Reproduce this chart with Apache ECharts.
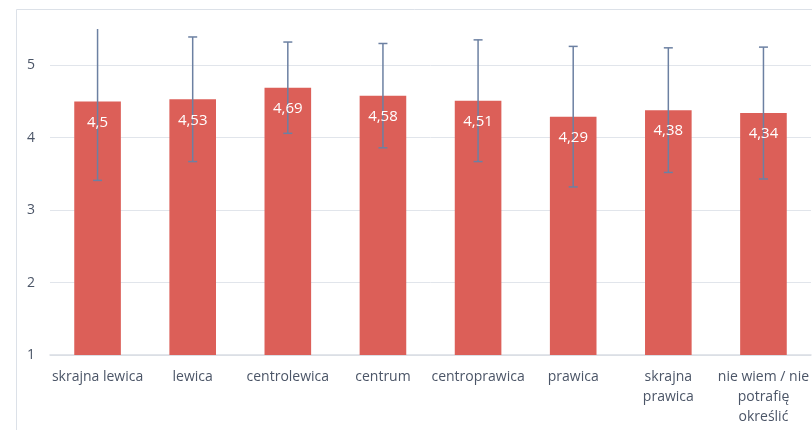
<!DOCTYPE html>
<html>
<head>
<meta charset="utf-8">
<script src="https://cdn.jsdelivr.net/npm/echarts@6/dist/echarts.min.js"></script>
<style>
  html, body { margin: 0; padding: 0; background: #fff; }
  #chart { width: 812px; height: 430px; }
</style>
</head>
<body>
<div id="chart"></div>
<script>
// Poglądy polityczne: średnia ocena z odchyleniem standardowym
const categories = [
  'skrajna lewica', 'lewica', 'centrolewica', 'centrum',
  'centroprawica', 'prawica', 'skrajna\nprawica', 'nie wiem / nie\npotrafię\nokreślić'
];
const means = [4.5, 4.53, 4.69, 4.58, 4.51, 4.29, 4.38, 4.34];
const stdDevs = [1.09, 0.86, 0.63, 0.72, 0.84, 0.97, 0.86, 0.91];
const yTicks = [1, 2, 3, 4, 5];

const FONT = '"Open Sans", "Noto Sans", sans-serif';
const TEXT = '#4B5567';

const errorData = means.map((m, i) => [i, m - stdDevs[i], m + stdDevs[i]]);
const labelData = means.map((m, i) => [i, m]);

const chart = echarts.init(document.getElementById('chart'), null, { renderer: 'canvas' });

chart.setOption({
  animation: false,
  backgroundColor: '#fff',
  graphic: [{
    type: 'rect',
    shape: { x: 16.5, y: 9.5, width: 900, height: 500 },
    style: { fill: 'none', stroke: '#DCE1E8', lineWidth: 1 },
    silent: true,
    z: -1
  }],
  grid: { left: 50, right: 0, top: 29, bottom: 75 },
  xAxis: {
    type: 'category',
    data: categories,
    axisTick: { show: false },
    axisLine: { lineStyle: { color: '#D9DDE3', width: 1.5 } },
    axisLabel: {
      interval: 0,
      margin: 12,
      color: TEXT,
      fontFamily: FONT,
      fontSize: 14,
      lineHeight: 20
    }
  },
  yAxis: {
    type: 'value',
    min: yTicks[0],
    max: 5.5,
    interval: 1,
    axisLine: { show: false },
    axisTick: { show: false },
    splitLine: { showMaxLine: false, lineStyle: { color: '#E1E5EB', width: 1 } },
    axisLabel: {
      showMaxLabel: false,
      margin: 15,
      color: TEXT,
      fontFamily: FONT,
      fontSize: 14,
      formatter: v => (yTicks.includes(v) ? String(v) : '')
    }
  },
  series: [
    {
      type: 'bar',
      data: means,
      barWidth: '49%',
      itemStyle: { color: '#DC5F58' },
      z: 2
    },
    {
      // error bars (± one standard deviation), clipped at the plot top
      type: 'custom',
      data: errorData,
      clip: true,
      z: 3,
      renderItem: (params, api) => {
        const x = api.value(0);
        const lo = api.coord([x, api.value(1)]);
        const hi = api.coord([x, api.value(2)]);
        const half = 4.5;
        const style = { stroke: '#6C80A2', lineWidth: 1.5 };
        return {
          type: 'group',
          children: [
            { type: 'line', shape: { x1: hi[0], y1: hi[1], x2: lo[0], y2: lo[1] }, style },
            { type: 'line', shape: { x1: hi[0] - half, y1: hi[1], x2: hi[0] + half, y2: hi[1] }, style },
            { type: 'line', shape: { x1: lo[0] - half, y1: lo[1], x2: lo[0] + half, y2: lo[1] }, style }
          ]
        };
      }
    },
    {
      // value labels inside the top of each bar, above the error bars
      type: 'custom',
      data: labelData,
      z: 4,
      renderItem: (params, api) => {
        const p = api.coord([api.value(0), api.value(1)]);
        return {
          type: 'text',
          x: p[0],
          y: p[1] + 21,
          style: {
            text: String(api.value(1)).replace('.', ','),
            fill: '#fff',
            font: '15px ' + FONT,
            align: 'center',
            verticalAlign: 'middle'
          }
        };
      }
    }
  ]
});
</script>
</body>
</html>
